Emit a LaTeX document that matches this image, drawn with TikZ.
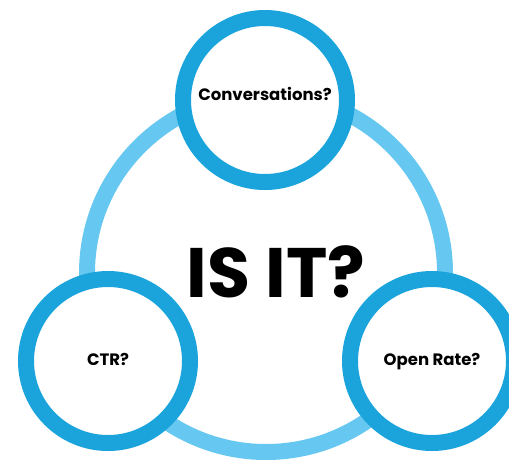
\documentclass[tikz,border=0pt]{standalone}
\usepackage{fontspec}
\setmainfont{Poppins}
\definecolor{ringblue}{RGB}{27,164,220}
\definecolor{paleblue}{RGB}{102,200,240}
\tikzset{
  bigring/.style={circle, draw=paleblue, line width=16pt, minimum size=358pt, inner sep=0pt},
  smallring/.style={circle, draw=ringblue, fill=white, line width=16pt, minimum size=164pt, inner sep=0pt},
  ringtext/.style={anchor=base, inner sep=0pt, font=\bfseries\fontsize{16.5}{16.5}\selectfont},
}
\begin{document}
\begin{tikzpicture}[x=1pt,y=-1pt]
	\useasboundingbox (0,0) rectangle (509,459);
	\node[bigring] (outer) at (266,273) {};
	\node[smallring] (conv) at (265,100) {};
	\node[smallring] (ctr) at (108,361) {};
	\node[smallring] (open) at (432,361) {};
	\node[anchor=base, inner sep=0pt, font=\bfseries\fontsize{70}{70}\selectfont] (isit) at (276,297) {IS IT?};
	\node[ringtext] (convtext) at (265,100) {Conversations?};
	\node[ringtext] (ctrtext) at (108,365) {CTR?};
	\node[ringtext] (opentext) at (432,365) {Open Rate?};
\end{tikzpicture}
\end{document}
